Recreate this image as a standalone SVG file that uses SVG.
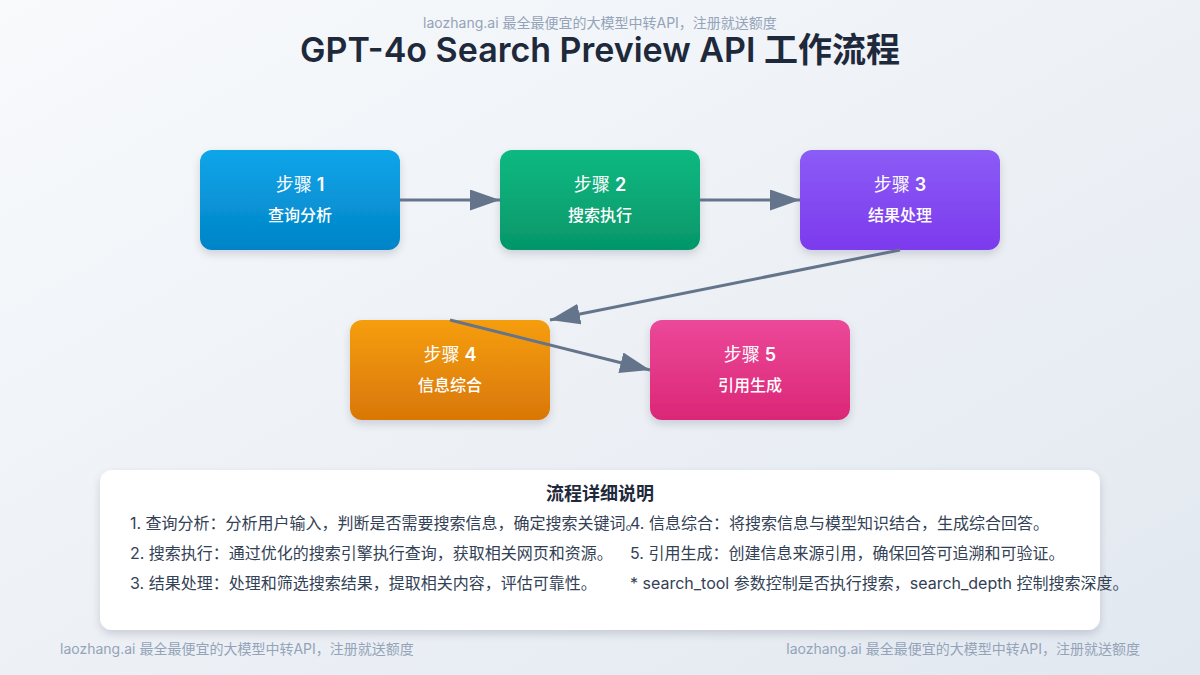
<svg xmlns="http://www.w3.org/2000/svg" width="1200" height="675" viewBox="0 0 1200 675">
  <style>
    .wm { font-family: Inter, "Noto Sans CJK SC", sans-serif; font-size: 14px; fill: #94a3b8; }
    .title { font-family: Inter, "Noto Sans CJK SC", sans-serif; font-size: 34px; font-weight: 600; fill: #1e293b; }
    .step { font-family: Inter, "Noto Sans CJK SC", sans-serif; font-size: 18px; font-weight: 400; fill: #ffffff; text-anchor: middle; }
    .desc { font-family: Inter, "Noto Sans CJK SC", sans-serif; font-size: 16px; font-weight: 500; fill: #ffffff; text-anchor: middle; }
    .conn { stroke: #64748b; stroke-width: 3; fill: none; marker-end: url(#arrow); }
    .dtitle { font-family: Inter, "Noto Sans CJK SC", sans-serif; font-size: 18px; font-weight: 700; fill: #1e293b; text-anchor: middle; }
    .dtext { font-family: Inter, "Noto Sans CJK SC", sans-serif; font-size: 16px; fill: #334155; }
  </style>
  <defs>
    <linearGradient id="bg" x1="0" y1="0" x2="1" y2="1">
      <stop offset="0" stop-color="#f8fafc"/>
      <stop offset="1" stop-color="#e2e8f0"/>
    </linearGradient>
    <linearGradient id="g1" x1="0" y1="0" x2="0" y2="1"><stop offset="0" stop-color="#0ea5e9"/><stop offset="1" stop-color="#0284c7"/></linearGradient>
    <linearGradient id="g2" x1="0" y1="0" x2="0" y2="1"><stop offset="0" stop-color="#10b981"/><stop offset="1" stop-color="#059669"/></linearGradient>
    <linearGradient id="g3" x1="0" y1="0" x2="0" y2="1"><stop offset="0" stop-color="#8b5cf6"/><stop offset="1" stop-color="#7c3aed"/></linearGradient>
    <linearGradient id="g4" x1="0" y1="0" x2="0" y2="1"><stop offset="0" stop-color="#f59e0b"/><stop offset="1" stop-color="#d97706"/></linearGradient>
    <linearGradient id="g5" x1="0" y1="0" x2="0" y2="1"><stop offset="0" stop-color="#ec4899"/><stop offset="1" stop-color="#db2777"/></linearGradient>
    <filter id="shadow" x="-20%" y="-20%" width="140%" height="150%">
      <feDropShadow dx="0" dy="4" stdDeviation="4" flood-color="#0f172a" flood-opacity="0.15"/>
    </filter>
    <marker id="arrow" markerWidth="10" markerHeight="7" refX="10" refY="3.5" orient="auto" markerUnits="strokeWidth">
      <polygon points="0 0, 10 3.5, 0 7" fill="#64748b"/>
    </marker>
  </defs>

  <rect width="1200" height="675" fill="url(#bg)"/>

  <text class="wm" x="600" y="28" text-anchor="middle">laozhang.ai 最全最便宜的大模型中转API，注册就送额度</text>
  <text class="title" x="600" y="62" text-anchor="middle">GPT-4o Search Preview API 工作流程</text>

  <g id="node1">
    <rect x="200" y="150" width="200" height="100" rx="12" fill="url(#g1)" filter="url(#shadow)"/>
    <text class="step" x="300" y="191">步骤 <tspan font-weight="600">1</tspan></text>
    <text class="desc" x="300" y="221">查询分析</text>
  </g>
  <g id="node2">
    <rect x="500" y="150" width="200" height="100" rx="12" fill="url(#g2)" filter="url(#shadow)"/>
    <text class="step" x="600" y="191">步骤 <tspan font-weight="600">2</tspan></text>
    <text class="desc" x="600" y="221">搜索执行</text>
  </g>
  <g id="node3">
    <rect x="800" y="150" width="200" height="100" rx="12" fill="url(#g3)" filter="url(#shadow)"/>
    <text class="step" x="900" y="191">步骤 <tspan font-weight="600">3</tspan></text>
    <text class="desc" x="900" y="221">结果处理</text>
  </g>
  <g id="node4">
    <rect x="350" y="320" width="200" height="100" rx="12" fill="url(#g4)" filter="url(#shadow)"/>
    <text class="step" x="450" y="361">步骤 <tspan font-weight="600">4</tspan></text>
    <text class="desc" x="450" y="391">信息综合</text>
  </g>
  <g id="node5">
    <rect x="650" y="320" width="200" height="100" rx="12" fill="url(#g5)" filter="url(#shadow)"/>
    <text class="step" x="750" y="361">步骤 <tspan font-weight="600">5</tspan></text>
    <text class="desc" x="750" y="391">引用生成</text>
  </g>

  <g id="connectors">
    <line class="conn" x1="400" y1="200" x2="500" y2="200"/>
    <line class="conn" x1="700" y1="200" x2="800" y2="200"/>
    <line class="conn" x1="900" y1="250" x2="550" y2="320"/>
    <line class="conn" x1="450" y1="320" x2="650" y2="370"/>
  </g>

  <g id="details">
    <rect x="100" y="470" width="1000" height="160" rx="12" fill="#ffffff" filter="url(#shadow)"/>
    <text class="dtitle" x="600" y="500">流程详细说明</text>
    <text class="dtext" x="130" y="529">1. 查询分析：分析用户输入，判断是否需要搜索信息，确定搜索关键词。</text>
    <text class="dtext" x="130" y="559">2. 搜索执行：通过优化的搜索引擎执行查询，获取相关网页和资源。</text>
    <text class="dtext" x="130" y="589">3. 结果处理：处理和筛选搜索结果，提取相关内容，评估可靠性。</text>
    <text class="dtext" x="630" y="529">4. 信息综合：将搜索信息与模型知识结合，生成综合回答。</text>
    <text class="dtext" x="630" y="559">5. 引用生成：创建信息来源引用，确保回答可追溯和可验证。</text>
    <text class="dtext" x="630" y="589">* search_tool 参数控制是否执行搜索，search_depth 控制搜索深度。</text>
  </g>

  <text class="wm" x="60" y="654">laozhang.ai 最全最便宜的大模型中转API，注册就送额度</text>
  <text class="wm" x="1140" y="654" text-anchor="end">laozhang.ai 最全最便宜的大模型中转API，注册就送额度</text>
</svg>
